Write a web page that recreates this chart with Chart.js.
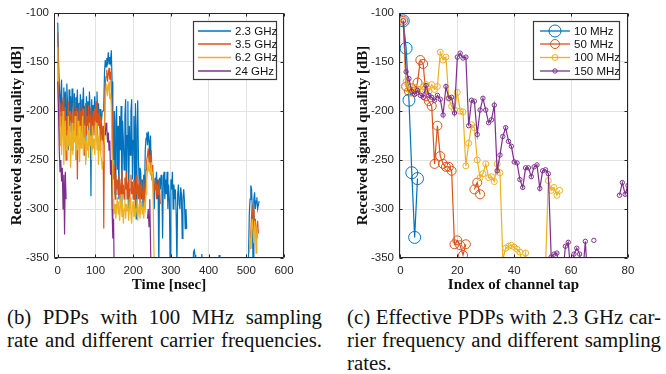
<!DOCTYPE html>
<html><head><meta charset="utf-8">
<script src="https://cdn.jsdelivr.net/npm/chart.js@4.4.0/dist/chart.umd.min.js"></script>
<style>
html,body{margin:0;padding:0;background:#fff;width:666px;height:374px;overflow:hidden;}
canvas{position:absolute;top:0;}
#c1{left:0;}
#c2{left:333px;}
.cap{position:absolute;font-family:"Liberation Serif","Times New Roman",serif;font-size:20.8px;line-height:23px;color:#111;}
.cap .j{text-align:justify;text-align-last:justify;}
</style></head>
<body>
<canvas id="c1" width="333" height="300"></canvas>
<canvas id="c2" width="333" height="300"></canvas>
<div class="cap" style="left:7px;top:305px;width:315px">
<div class="j">(b) PDPs with 100 MHz sampling</div>
<div class="j">rate and different carrier frequencies.</div>
</div>
<div class="cap" style="left:347px;top:305px;width:314px">
<div class="j">(c) Effective PDPs with 2.3 GHz car-</div>
<div class="j">rier frequency and different sampling</div>
<div>rates.</div>
</div>
<script>
// ---------- axis ticks ----------
const yTickVals = [-350, -300, -250, -200, -150, -100];
const timeTickVals = [0, 100, 200, 300, 400, 500, 600];
const tapTickVals = [0, 20, 40, 60, 80];

// ---------- (b) PDPs, time axis [ns] ----------
const timeNs = [
  0,2,4,6,8,10,12,14,16,18,
  20,22,24,26,28,30,32,34,36,38,
  40,42,44,46,48,50,52,54,56,58,
  60,62,64,66,68,70,72,74,76,78,
  80,82,84,86,88,90,92,94,96,98,
  100,102,104,106,108,110,112,114,116,118,
  120,122,124,126,128,130,132,134,136,138,
  140,142,144,146,148,150,152,154,156,158,
  160,162,164,166,168,170,172,174,176,178,
  180,182,184,186,188,190,192,194,196,198,
  200,202,204,206,208,210,212,214,216,218,
  220,222,224,226,228,230,232,234,236,238,
  240,242,244,246,248,250,252,254,256,258,
  260,262,264,266,268,270,272,274,276,278,
  280,282,284,286,288,290,292,294,296,298,
  300,302,304,306,308,310,312,314,316,318,
  320,322,324,326,328,330,332,334,336,338,
  340,342,344,346,
  350,358,360,362,364,366,368,380,382,384,386,426,428,430,432,500,
  504,506,508,510,512,514,516,518,520,522,524,526,528,530,532,534,536,540
];
const pdp2_3GHz = [
  -110,-150,-172,-200,-185,-168,-210,-190,-176,-205,
  -180,-215,-172,-195,-240,-178,-200,-185,-222,-177,
  -190,-210,-182,-230,-186,-200,-178,-215,-192,-205,
  -183,-228,-188,-198,-176,-212,-195,-250,-185,-205,
  -190,-220,-180,-200,-287,-188,-210,-194,-203,-185,
  -196,-215,-180,-205,-192,-215,-198,-205,-210,-200,
  -200,-195,-160,-148,-155,-146,-150,-140,-152,-145,
  -150,-138,-170,-215,-250,-200,-285,-210,-195,-260,
  -215,-290,-205,-240,-195,-300,-210,-230,-260,-205,
  -188,-280,-225,-190,-300,-215,-245,-200,-188,-270,
  -230,-205,-290,-192,-310,-220,-189,-250,-275,-258,
  -262,-290,-270,-300,-265,-285,-240,-228,-222,-235,
  -221,-230,-250,-225,-265,-270,-262,-280,-300,-268,
  -275,-262,-290,-270,-365,-268,-280,-265,-275,-330,
  -268,-262,-290,-270,-285,-262,-300,-275,-290,-360,
  -270,-280,-262,-300,-275,-290,-280,-305,-360,-285,
  -275,-295,-300,-278,-285,-330,-290,-280,-292,-320,
  -300,-320,null,null,
  null,-375,-344,-342,-347,-375,null,-370,-346,-370,null,-370,-347,-370,null,null,
  -380,-345,-305,-290,-276,-280,-300,-365,-290,-283,-300,-292,-288,-300,-296,-292,null,null
];
const pdp3_5GHz = [
  -120,-188,-200,-215,-192,-225,-205,-186,-235,-210,
  -196,-250,-205,-220,-190,-230,-200,-210,-202,-240,
  -205,-190,-225,-200,-250,-197,-270,-215,-205,-193,
  -220,-200,-235,-197,-210,-245,-200,-192,-225,-205,
  -215,-194,-230,-205,-197,-240,-210,-200,-225,-198,
  -210,-190,-232,-202,-215,-198,-240,-205,-212,-230,
  -215,-320,-210,-172,-165,-158,-170,-162,-156,-168,
  -160,-175,-200,-240,-270,-255,-290,-265,-280,-270,
  -285,-265,-275,-295,-270,-260,-285,-275,-290,-268,
  -280,-262,-290,-275,-270,-295,-280,-265,-285,-272,
  -290,-270,-280,-300,-265,-285,-275,-290,-270,-295,
  -280,-275,-290,-285,-270,-300,-280,-260,-250,-245,
  -238,-252,-245,-265,-240,-270,-255,-290,-275,-280,
  -270,-290,-275,-285,-270,-280,-295,null,null,null,
  null,null,null,null,null,null,null,null,null,null,
  null,null,null,null,null,null,null,null,null,null,
  null,null,null,null,null,null,null,null,null,null,
  null,null,null,null,
  null,null,null,null,null,null,null,null,null,null,null,null,null,null,null,null,
  null,null,null,-340,-325,-306,-296,-310,-300,-318,-310,-322,-330,-312,-325,null,null,null
];
const pdp6_2GHz = [
  -135,-190,-215,-235,-205,-245,-220,-200,-255,-225,
  -210,-240,-225,-250,-205,-235,-215,-258,-230,-212,
  -245,-220,-232,-205,-250,-225,-240,-210,-235,-252,
  -215,-238,-222,-205,-245,-228,-215,-255,-230,-240,
  -220,-248,-212,-235,-225,-250,-215,-238,-228,-245,
  -222,-212,-240,-225,-255,-218,-232,-245,-250,-260,
  -250,-235,-230,-190,-178,-172,-185,-175,-170,-188,
  -182,-195,-250,-300,-290,-305,-295,-310,-298,-288,
  -305,-292,-312,-298,-285,-308,-295,-315,-300,-290,
  -310,-295,-302,-290,-312,-300,-288,-305,-315,-298,
  -292,-308,-296,-310,-300,-290,-312,-302,-295,-310,
  -300,-292,-305,-298,-310,-295,-300,-285,-270,-260,
  -255,-262,-258,-265,-252,-270,-262,-320,-360,null,
  null,null,null,null,null,null,null,null,null,null,
  null,null,null,null,null,null,null,null,null,null,
  null,null,null,null,null,null,null,null,null,null,
  null,null,null,null,null,null,null,null,null,null,
  null,null,null,null,
  null,null,null,null,null,null,null,null,null,null,null,null,null,null,null,null,
  null,null,-345,-330,-340,-318,-310,-325,-335,-312,-320,-345,-318,-330,null,null,null,null
];
const pdp24GHz = [
  -170,-200,-240,-262,-250,-272,-258,-300,-265,-326,
  -262,-290,null,null,null,null,null,null,null,null,
  null,null,null,null,null,null,null,null,null,null,
  null,null,null,null,null,null,null,null,null,null,
  null,null,null,null,null,null,null,null,null,null,
  null,null,null,null,null,null,null,null,null,null,
  null,null,null,-225,-212,-218,-232,-222,-240,-230,
  -265,-250,-300,-330,-310,-380,null,null,null,null,
  null,null,null,null,null,null,null,null,null,null,
  null,null,null,null,null,null,null,null,null,null,
  null,null,null,null,null,null,null,null,null,null,
  null,null,null,null,null,null,null,null,null,-310,
  -300,-318,-290,-335,-380,null,null,null,null,null
];

// ---------- (c) effective PDPs, tap index ----------
const tapIndex = [
  1,2,3,4,5,6,7,8,9,10,11,12,13,14,15,16,17,18,19,20,
  21,22,23,24,25,26,27,28,29,30,31,32,33,34,35,36,37,38,39,40,
  41,42,43,44,45,46,47,48,49,50,51,52,53,54,55,56,57,58,59,60,
  61,62,63,64,65,66,67,68,69,70,71,72,73,74,75,76,77,78,79,80
];
const eff10MHz = [-108,-136,-189,-263,-329,-269];
const eff50MHz = [
  -108,-175,-180,-177,-180,-171,-148,-152,-185,-190,
  -195,-254,-215,-246,-254,-257,-257,-261,-336,-332,
  -337,-347,-336,null,null,-280,-273,-285
];
const eff100MHz = [
  -108,-170,-178,-182,-176,-180,-178,-175,-173,-180,
  -173,-178,-175,-140,-148,-145,-187,-195,-199,-181,
  -200,-201,-256,-233,-214,-217,-250,-268,-264,-254,
  -268,-267,-272,-254,-263,-352,-340,-338,-337,-339,
  -341,-344,-360,-345,-380,-380,-380,-380,-380,-380,
  -360,-271,-281,-278,-286,-281
];
const eff150MHz = [
  -108,-160,-167,-180,-183,-179,-184,-186,-174,-184,
  -186,-189,-184,-188,-204,-175,-187,-186,-202,-145,
  -141,-146,-145,-215,-189,-190,-224,-199,-187,-199,
  -212,-209,-194,-261,-245,-226,-217,-231,-236,-252,
  -253,-270,-278,-258,-258,-267,-257,-255,-279,-261,
  -260,-264,-349,-346,-345,-370,-370,-338,-334,-370,
  -346,-340,-346,-370,-333,-380,null,-332,null,null,
  null,null,null,null,null,null,-286,-273,-285,-276
];

const COLORS = ['#0072BD', '#D95319', '#EDB120', '#7E2F8E'];
const xy = (xs, vals) => xs.map((x, i) => ({x: x, y: (vals[i] === undefined ? null : vals[i])}));

Chart.defaults.font.family = '"Liberation Sans", Arial, Helvetica, sans-serif';
Chart.defaults.font.size = 11.5;
Chart.defaults.color = '#262626';

const boxPlugin = {
  id: 'mbox',
  afterDatasetsDraw(chart) {
    const {ctx, chartArea: a, scales} = chart;
    const L = Math.round(a.left) + 0.5, R = Math.round(a.right) - 0.5;
    const T = Math.round(a.top) + 0.5, B = Math.round(a.bottom) - 0.5;
    ctx.save();
    ctx.strokeStyle = '#262626';
    ctx.lineWidth = 1;
    ctx.beginPath();
    ctx.rect(L, T, R - L, B - T);
    const tl = 3;
    scales.x.ticks.forEach(t => {
      const px = Math.round(scales.x.getPixelForValue(t.value)) + 0.5;
      ctx.moveTo(px, B); ctx.lineTo(px, B - tl);
      ctx.moveTo(px, T); ctx.lineTo(px, T + tl);
    });
    scales.y.ticks.forEach(t => {
      const py = Math.round(scales.y.getPixelForValue(t.value)) + 0.5;
      ctx.moveTo(L, py); ctx.lineTo(L + tl, py);
      ctx.moveTo(R, py); ctx.lineTo(R - tl, py);
    });
    ctx.stroke();
    ctx.restore();
  }
};

const legendPlugin = {
  id: 'mlegend',
  afterDraw(chart, args, o) {
    const {ctx} = chart;
    ctx.save();
    ctx.fillStyle = '#fff';
    ctx.fillRect(o.x, o.y, o.w, o.h);
    ctx.strokeStyle = '#3a3a3a';
    ctx.lineWidth = 1.2;
    ctx.strokeRect(o.x + 0.5, o.y + 0.5, o.w, o.h);
    chart.data.datasets.forEach((ds, i) => {
      const yy = o.rows[i];
      ctx.strokeStyle = ds.borderColor;
      ctx.lineWidth = o.lw;
      ctx.beginPath();
      ctx.moveTo(o.l0, yy); ctx.lineTo(o.l1, yy);
      ctx.stroke();
      if (ds.pointRadius > 0) {
        ctx.lineWidth = 1;
        ctx.beginPath();
        ctx.arc((o.l0 + o.l1) / 2, yy, ds.pointRadius, 0, Math.PI * 2);
        ctx.stroke();
      }
      ctx.fillStyle = '#111';
      ctx.font = '11.5px "Liberation Sans", Arial, sans-serif';
      ctx.textBaseline = 'middle';
      ctx.textAlign = 'left';
      ctx.fillText(ds.label, o.tx, yy + 0.5);
    });
    ctx.restore();
  }
};

function makeScales(xMin, xMax, xTickVals, xTitle, yWidth, yTitlePad) {
  const titleFont = {family: '"Liberation Serif", "Times New Roman", serif', size: 15, weight: 'bold'};
  return {
    x: {
      type: 'linear', min: xMin, max: xMax,
      afterBuildTicks: s => { s.ticks = xTickVals.map(v => ({value: v})); },
      afterFit: s => { s.height = 42; },
      grid: {color: '#e3e3e3', lineWidth: 1, drawTicks: false},
      border: {display: false},
      ticks: {padding: 6, maxRotation: 0, autoSkip: false, color: '#262626'},
      title: {display: true, text: xTitle, color: '#111', font: titleFont, padding: {top: 0, bottom: 6}}
    },
    y: {
      type: 'linear', min: -350, max: -100,
      afterBuildTicks: s => { s.ticks = yTickVals.map(v => ({value: v})); },
      afterFit: s => { s.width = yWidth; },
      grid: {color: '#e3e3e3', lineWidth: 1, drawTicks: false},
      border: {display: false},
      ticks: {padding: 5, color: '#262626'},
      title: {display: true, text: 'Received signal quality [dB]', color: '#111', font: titleFont, padding: {top: yTitlePad, bottom: 0}}
    }
  };
}

const timeLabels = ['2.3 GHz', '3.5 GHz', '6.2 GHz', '24 GHz'];
const timeSeries = [pdp2_3GHz, pdp3_5GHz, pdp6_2GHz, pdp24GHz];
new Chart(document.getElementById('c1'), {
  type: 'line',
  data: {
    datasets: timeSeries.map((vals, i) => ({
      label: timeLabels[i],
      data: xy(timeNs, vals),
      borderColor: COLORS[i],
      borderWidth: 1.2,
      pointRadius: 0,
      tension: 0,
      spanGaps: false,
      order: 4 - i
    }))
  },
  options: {
    responsive: false, animation: false, devicePixelRatio: 1,
    layout: {padding: {left: 0, right: 49, top: 13, bottom: 0}},
    scales: makeScales(-10, 600, timeTickVals, 'Time [nsec]', 54, 8),
    plugins: {
      legend: {display: false}, tooltip: {enabled: false},
      mlegend: {x: 193, y: 21, w: 83, h: 58, l0: 198, l1: 231, tx: 235, lw: 1.6, rows: [31, 44, 57.5, 71]}
    }
  },
  plugins: [boxPlugin, legendPlugin]
});

const tapLabels = ['10 MHz', '50 MHz', '100 MHz', '150 MHz'];
const tapSeries = [eff10MHz, eff50MHz, eff100MHz, eff150MHz];
const tapRadius = [6, 4.5, 3, 2.2];
new Chart(document.getElementById('c2'), {
  type: 'line',
  data: {
    datasets: tapSeries.map((vals, i) => ({
      label: tapLabels[i],
      data: xy(tapIndex.slice(0, vals.length), vals),
      borderColor: COLORS[i],
      borderWidth: 1.2,
      pointRadius: tapRadius[i],
      pointHoverRadius: tapRadius[i],
      pointBorderWidth: 1,
      pointBorderColor: COLORS[i],
      pointBackgroundColor: 'rgba(0,0,0,0)',
      tension: 0,
      spanGaps: false,
      order: 4 - i
    }))
  },
  options: {
    responsive: false, animation: false, devicePixelRatio: 1,
    layout: {padding: {left: 0, right: 38, top: 13, bottom: 0}},
    scales: makeScales(-0.5, 80, tapTickVals, 'Index of channel tap', 66, 21),
    plugins: {
      legend: {display: false}, tooltip: {enabled: false},
      mlegend: {x: 200, y: 21, w: 86, h: 58, l0: 207, l1: 237, tx: 241, lw: 1.3, rows: [31, 44, 57.5, 71]}
    }
  },
  plugins: [boxPlugin, legendPlugin]
});
</script>
</body></html>
